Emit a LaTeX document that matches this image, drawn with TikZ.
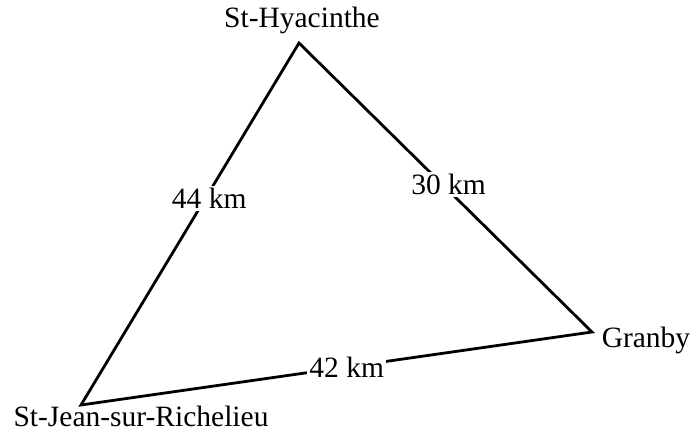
\documentclass[tikz,border=0pt]{standalone}
\usepackage{fontspec}
\setmainfont{Liberation Serif}
\begin{document}
\begin{tikzpicture}[x=1pt, y=-1pt,
    every node/.style={font=\fontsize{29.5}{34}\selectfont},
    side/.style={line width=2.8pt, line join=miter},
    dist/.style={fill=white, inner sep=2pt}]
    \useasboundingbox (0,0) rectangle (691,434);
    \coordinate (hya) at (299, 43);
    \coordinate (gra) at (592, 332);
    \coordinate (sjr) at (81, 405);
    \node[anchor=base] (hyaname) at (302, 27) {St-Hyacinthe};
    \node[anchor=base] (graname) at (646, 347) {Granby};
    \node[anchor=base] (sjrname) at (141, 426) {St-Jean-sur-Richelieu};
    \draw[side] (sjr) -- (hya) -- (gra) -- cycle;
    \path (sjr) -- node[dist, pos=0.57, xshift=4pt] (d44) {44 km} (hya);
    \path (hya) -- node[dist, pos=0.49, xshift=6pt] (d30) {30 km} (gra);
    \path (sjr) -- node[dist, pos=0.52] (d42) {42 km} (gra);
\end{tikzpicture}
\end{document}
